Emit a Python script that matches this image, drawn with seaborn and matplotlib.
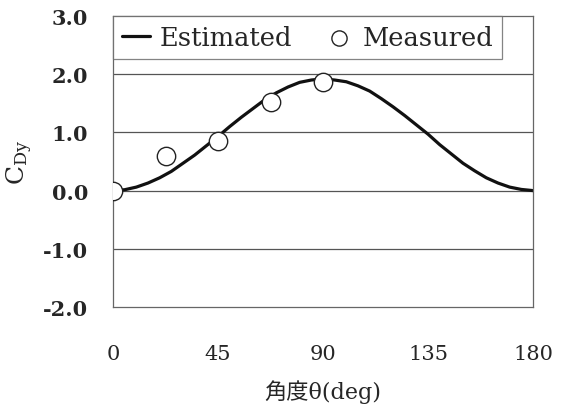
import numpy as np
import pandas as pd
import matplotlib
matplotlib.use("Agg")
import matplotlib.pyplot as plt
import seaborn as sns

# Estimated curve
est_angle = [0, 5, 10, 15, 20, 25, 30, 35, 40, 45, 50, 55, 60, 65, 70, 75, 80, 85, 90,
             95, 100, 105, 110, 115, 120, 125, 130, 135, 140, 145, 150, 155, 160, 165, 170, 175, 180]
est_cdy = [0.00, 0.015, 0.06, 0.13, 0.22, 0.33, 0.47, 0.61, 0.77, 0.93, 1.10, 1.26, 1.41, 1.56, 1.68, 1.78, 1.86, 1.90, 1.92,
           1.90, 1.87, 1.80, 1.71, 1.58, 1.44, 1.29, 1.13, 0.97, 0.79, 0.63, 0.47, 0.34, 0.22, 0.13, 0.06, 0.02, 0.00]

# Measured points
meas_angle = [0, 22.5, 45, 67.5, 90]
meas_cdy = [0.00, 0.59, 0.86, 1.53, 1.86]

x_ticks = [0, 45, 90, 135, 180]
y_ticks = [-2.0, -1.0, 0.0, 1.0, 2.0, 3.0]
y_ticklabels = ["-2.0", "-1.0", "0.0", "1.0", "2.0", "3.0"]

sns.set_theme(style="white")
plt.rcParams['font.family'] = ['DejaVu Serif', 'Noto Sans CJK JP']
plt.rcParams['mathtext.fontset'] = 'dejavuserif'

fig = plt.figure(figsize=(5.64, 4.06), dpi=100)
ax = fig.add_axes([113/564, 1 - 308/406, (533 - 113)/564, (308 - 17)/406])

df_est = pd.DataFrame({"angle": est_angle, "cdy": est_cdy})
df_meas = pd.DataFrame({"angle": meas_angle, "cdy": meas_cdy})

for yv in [-1.0, 0.0, 1.0, 2.0]:
    ax.axhline(yv, color="#555555", lw=0.9, zorder=0)

sns.lineplot(data=df_est, x="angle", y="cdy", ax=ax, color="#111111", lw=2.3,
             label="Estimated", zorder=2)
sns.scatterplot(data=df_meas, x="angle", y="cdy", ax=ax, s=175, facecolor="white",
                edgecolor="#222222", linewidth=1.0, label="Measured", zorder=3)

ax.set_xlim(0, 180)
ax.set_ylim(-2.0, 3.0)
ax.set_xticks(x_ticks)
ax.set_xticklabels([str(t) for t in x_ticks], fontsize=15)
ax.set_yticks(y_ticks)
ax.set_yticklabels(y_ticklabels, fontsize=15, fontweight="bold")
ax.tick_params(axis="x", direction="in", length=5, pad=27, color="#555555")
ax.tick_params(axis="y", length=0, pad=18)

for s in ax.spines.values():
    s.set_color("#666666")
    s.set_linewidth(0.9)

ax.set_xlabel("角度θ(deg)", fontsize=16, labelpad=11)
ax.set_ylabel(r"C$_{\mathregular{Dy}}$", fontsize=18, labelpad=6)

leg = ax.legend(loc="upper left", bbox_to_anchor=(0.0, 1.0), borderaxespad=0.0,
                ncol=2, fontsize=18.5, frameon=True, fancybox=False, handlelength=1.1,
                handletextpad=0.35, columnspacing=1.3, borderpad=0.35)
leg.get_frame().set_edgecolor("#666666")
leg.get_frame().set_linewidth(0.9)
for h in leg.legend_handles:
    try:
        h.set_sizes([120])
    except Exception:
        pass

fig.savefig("out.png", dpi=100)
